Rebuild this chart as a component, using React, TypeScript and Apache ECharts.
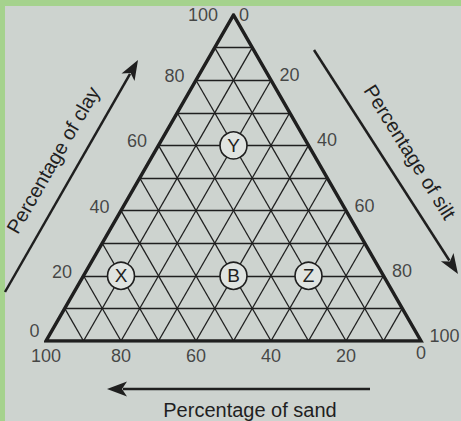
import React, { useEffect, useRef } from "react";
import * as echarts from "echarts";

// ---- data ----
const clayTicks = [0, 20, 40, 60, 80, 100];
const siltTicks = [0, 20, 40, 60, 80, 100];
const sandTicks = [100, 80, 60, 40, 20, 0];
const gridSteps = [10, 20, 30, 40, 50, 60, 70, 80, 90];
const sampleNames = ["X", "B", "Z", "Y"];
const sampleClay = [20, 20, 20, 60];
const sampleSilt = [10, 40, 60, 20];
const sampleSand = [70, 40, 20, 20];

const INK = "#1f1f1f";
const FONT = "'Liberation Sans', Arial, sans-serif";

// ternary -> cartesian (x: 0..100, y: 0..100)
const toXY = (clay: number, silt: number): [number, number] => [silt + clay / 2, clay];

function arrow(x1: number, y1: number, x2: number, y2: number) {
  const dx = x2 - x1, dy = y2 - y1;
  const len = Math.sqrt(dx * dx + dy * dy);
  const ux = dx / len, uy = dy / len;
  const hl = 20, hw = 7.5;
  const bx = x2 - ux * hl, by = y2 - uy * hl;
  const px = -uy * hw, py = ux * hw;
  return [
    {
      type: "line",
      shape: { x1, y1, x2: bx + ux * 4, y2: by + uy * 4 },
      style: { stroke: INK, lineWidth: 2.5 },
    },
    {
      type: "polygon",
      shape: { points: [[x2, y2], [bx + px, by + py], [bx + ux * 5, by + uy * 5], [bx - px, by - py]] },
      style: { fill: INK },
    },
  ];
}

export default function App() {
  const ref = useRef<HTMLDivElement>(null);
  useEffect(() => {
    if (!ref.current) return;
    const chart = echarts.init(ref.current, undefined, { renderer: "svg" });

    const gridLines: any[] = [];
    gridSteps.forEach((k) => {
      gridLines.push({ coords: [toXY(k, 0), toXY(k, 100 - k)] });
      gridLines.push({ coords: [toXY(0, k), toXY(100 - k, k)] });
      gridLines.push({ coords: [toXY(0, 100 - k), toXY(100 - k, 0)] });
    });

    const outline = [toXY(0, 0), toXY(0, 100), toXY(100, 0), toXY(0, 0), toXY(0, 100)];

    const labelBase = { show: true, color: INK, fontSize: 18, fontFamily: FONT };

    const clayData = clayTicks.map((c) => {
      const item: any = { value: toXY(c, 0), name: String(c) };
      if (c === 0) item.label = { distance: 6, offset: [0, -10] };
      if (c === 100) item.label = { distance: 15, offset: [0, 0] };
      return item;
    });
    const siltData = siltTicks.map((s) => {
      const item: any = { value: toXY(100 - s, s), name: String(s) };
      if (s === 0) item.label = { distance: 5, offset: [0, 0] };
      if (s === 100) item.label = { distance: 8, offset: [0, -5] };
      return item;
    });
    const sandData = sandTicks.map((d) => {
      const item: any = { value: toXY(0, 100 - d), name: String(d) };
      if (d === 0) item.label = { distance: 2 };
      return item;
    });

    const samples = sampleNames.map((n, i) => ({
      name: n,
      value: toXY(sampleClay[i], sampleSilt[i]),
      sand: sampleSand[i],
    }));

    const hidden = { color: "rgba(0,0,0,0)" };
    const titleStyle = {
      x: 0,
      y: 0,
      fill: INK,
      font: `20px ${FONT}`,
      align: "center",
      verticalAlign: "middle",
      textAlign: "center",
      textVerticalAlign: "middle",
    };

    chart.setOption({
      animation: false,
      backgroundColor: "#a5d28d",
      grid: { left: 46, top: 15, width: 375, height: 326 },
      xAxis: { type: "value", min: 0, max: 100, show: false },
      yAxis: { type: "value", min: 0, max: 100, show: false },
      graphic: [
        {
          type: "rect",
          z: -10,
          shape: { x: 5, y: 6, width: 456, height: 415 },
          style: { fill: "#cdd3cf" },
        },
        ...arrow(5, 292, 138, 60),
        ...arrow(314, 50, 458, 274),
        ...arrow(370, 389, 107, 389),
        {
          type: "text",
          x: 53,
          y: 160,
          rotation: Math.PI / 3,
          style: { ...titleStyle, text: "Percentage of clay" },
        },
        {
          type: "text",
          x: 410,
          y: 152,
          rotation: (-58 * Math.PI) / 180,
          style: { ...titleStyle, text: "Percentage of silt" },
        },
        {
          type: "text",
          x: 250,
          y: 410,
          style: { ...titleStyle, text: "Percentage of sand" },
        },
      ],
      series: [
        {
          type: "lines",
          coordinateSystem: "cartesian2d",
          silent: true,
          z: 2,
          lineStyle: { color: INK, width: 1.3, opacity: 1 },
          data: gridLines,
        },
        {
          type: "line",
          silent: true,
          z: 3,
          symbol: "none",
          data: outline,
          lineStyle: { color: INK, width: 3.5, join: "miter" },
        },
        {
          type: "scatter",
          z: 5,
          symbol: "circle",
          symbolSize: 27,
          data: samples,
          itemStyle: { color: "#e0e4e1", borderColor: INK, borderWidth: 1.6, opacity: 1 },
          label: {
            show: true,
            position: "inside",
            formatter: "{b}",
            color: INK,
            fontSize: 19,
            fontFamily: FONT,
          },
        },
        {
          type: "scatter",
          z: 6,
          symbolSize: 1,
          itemStyle: hidden,
          data: clayData,
          label: { ...labelBase, position: "left", distance: 11, offset: [0, -4], formatter: "{b}" },
        },
        {
          type: "scatter",
          z: 6,
          symbolSize: 1,
          itemStyle: hidden,
          data: siltData,
          label: { ...labelBase, position: "right", distance: 8, offset: [0, -5], formatter: "{b}" },
        },
        {
          type: "scatter",
          z: 6,
          symbolSize: 1,
          itemStyle: hidden,
          data: sandData,
          label: { ...labelBase, position: "bottom", distance: 5, formatter: "{b}" },
        },
      ],
    });
    return () => chart.dispose();
  }, []);
  return (
    <div
      ref={ref}
      style={{ position: "fixed", left: 0, top: 0, width: 461, height: 421 }}
    />
  );
}
